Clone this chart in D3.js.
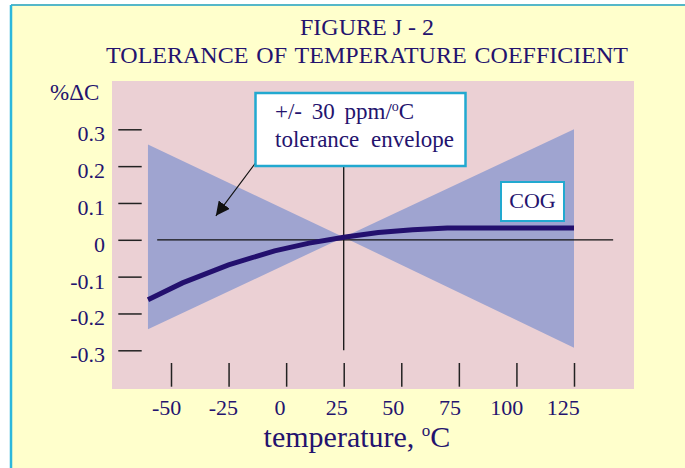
<!DOCTYPE html>
<html>
<head>
<meta charset="utf-8">
<script src="https://cdn.jsdelivr.net/npm/d3@7"></script>
<style>
  body { margin: 0; background: #fff; }
  text { font-family: "Liberation Serif", "Times New Roman", serif; fill: #24136e; }
</style>
</head>
<body>
<svg width="685" height="468"></svg>
<script>
// values
const cogTemps = [-60, -45, -25, -5, 10, 25, 40, 55, 70, 125];
const cogValues = [-0.163, -0.117, -0.068, -0.030, -0.009, 0.007, 0.020, 0.027, 0.032, 0.032];
const envTemps = [-60, 25, 125];
const envUpper = [0.259, 0.007, 0.300];
const envLower = [-0.243, 0.007, -0.293];
const xTicks = [-50, -25, 0, 25, 50, 75, 100, 125];
const yTicks = [0.3, 0.2, 0.1, 0, -0.1, -0.2, -0.3];
const zeroLine = [-56, 142];
const crossTemp = 25;
const arrowFrom = [-13, 0.211];
const arrowTo = [-30.5, 0.065];

const svg = d3.select("svg");
const ink = "#24136e";

// frame and panels
svg.append("rect").attr("x", 11).attr("y", 5).attr("width", 674).attr("height", 463).attr("fill", "#ffffcc");
svg.append("line").attr("x1", 11).attr("x2", 685).attr("y1", 5).attr("y2", 5)
  .attr("stroke", "#55b7c8").attr("stroke-width", 2);
svg.append("line").attr("x1", 11).attr("x2", 11).attr("y1", 5).attr("y2", 468)
  .attr("stroke", "#2cb8dc").attr("stroke-width", 2.5);
svg.append("rect").attr("x", 112).attr("y", 81).attr("width", 522).attr("height", 308).attr("fill", "#ebd0d4");

const x = d3.scaleLinear().domain([-50, 125]).range([171, 574]);
const xLabel = d3.scaleLinear().domain([-50, 125]).range([166.7, 563.3]);
const y = d3.scaleLinear().domain([-0.3, 0.3]).range([350.3, 129.3]);

// title
svg.append("text").attr("x", 367).attr("y", 35).attr("text-anchor", "middle")
  .attr("font-size", 24).text("FIGURE J - 2");
svg.append("text").attr("x", 367).attr("y", 63).attr("text-anchor", "middle")
  .attr("font-size", 24).attr("word-spacing", 2).text("TOLERANCE OF TEMPERATURE COEFFICIENT");

// tolerance envelope
const env = envTemps.map((t, i) => ({ t: t, lo: envLower[i], hi: envUpper[i] }));
svg.append("path").datum(env)
  .attr("fill", "#9fa4d0")
  .attr("d", d3.area().x(d => x(d.t)).y0(d => y(d.lo)).y1(d => y(d.hi)));

// zero line and 25C line
svg.append("line")
  .attr("x1", x(zeroLine[0])).attr("x2", x(zeroLine[1]))
  .attr("y1", y(0)).attr("y2", y(0))
  .attr("stroke", "#111").attr("stroke-width", 1.3);
svg.append("line")
  .attr("x1", x(crossTemp)).attr("x2", x(crossTemp))
  .attr("y1", y(0.3)).attr("y2", y(-0.3))
  .attr("stroke", "#111").attr("stroke-width", 1.3);

// COG curve
const cog = cogTemps.map((t, i) => ({ t: t, v: cogValues[i] }));
svg.append("path").datum(cog)
  .attr("fill", "none").attr("stroke", "#23106e").attr("stroke-width", 5)
  .attr("d", d3.line().x(d => x(d.t)).y(d => y(d.v)));

// y axis: detached ticks
const yAxis = svg.append("g").attr("transform", "translate(141.7,0)")
  .call(d3.axisLeft(y).tickValues(yTicks).tickSize(23.4).tickPadding(13.3).tickFormat(d => String(d)));
yAxis.select(".domain").remove();
yAxis.selectAll("line").attr("stroke", "#222").attr("stroke-width", 1.5);
yAxis.selectAll("text").attr("font-size", 22).attr("dy", "0.52em")
  .attr("font-family", "Liberation Serif").attr("fill", ink);

// x axis: ticks inside the panel, labels below it
const xAxis = svg.append("g").attr("transform", "translate(0,363)")
  .call(d3.axisBottom(x).tickValues(xTicks).tickSizeInner(23.7).tickSizeOuter(0).tickFormat(""));
xAxis.select(".domain").remove();
xAxis.selectAll("line").attr("stroke", "#222").attr("stroke-width", 1.5);

svg.selectAll(".xlab").data(xTicks).enter().append("text")
  .attr("class", "xlab")
  .attr("x", d => xLabel(d)).attr("y", 415)
  .attr("text-anchor", "middle").attr("font-size", 22)
  .text(d => String(d));

// axis titles
svg.append("text").attr("x", 50).attr("y", 100).attr("font-size", 23).text("%ΔC");
const xt = svg.append("text").attr("x", 357).attr("y", 447).attr("text-anchor", "middle")
  .attr("font-size", 30).text("temperature, ");
xt.append("tspan").attr("font-size", 17).attr("dy", -11).text("o");
xt.append("tspan").attr("dy", 11).text("C");

// legend box with arrow
svg.append("defs").append("marker")
  .attr("id", "head").attr("viewBox", "0 0 10 10")
  .attr("refX", 10).attr("refY", 5)
  .attr("markerWidth", 14).attr("markerHeight", 14)
  .attr("markerUnits", "userSpaceOnUse").attr("orient", "auto")
  .append("path").attr("d", "M0,0 L10,5 L0,10 Z").attr("fill", "#111");
svg.append("line")
  .attr("x1", x(arrowFrom[0])).attr("y1", y(arrowFrom[1]))
  .attr("x2", x(arrowTo[0])).attr("y2", y(arrowTo[1]))
  .attr("stroke", "#111").attr("stroke-width", 1.2)
  .attr("marker-end", "url(#head)");

svg.append("rect").attr("x", 255.5).attr("y", 93).attr("width", 210).attr("height", 73)
  .attr("fill", "#fff").attr("stroke", "#22a9d0").attr("stroke-width", 2.5);
const l1 = svg.append("text").attr("x", 275).attr("y", 119).attr("font-size", 23).attr("word-spacing", 4)
  .text("+/- 30 ppm/");
l1.append("tspan").attr("font-size", 14).attr("dy", -8).text("o");
l1.append("tspan").attr("dy", 8).text("C");
svg.append("text").attr("x", 275).attr("y", 147).attr("font-size", 23).attr("word-spacing", 6)
  .text("tolerance envelope");

// COG label box
svg.append("rect").attr("x", 501).attr("y", 182).attr("width", 63).attr("height", 39)
  .attr("fill", "#fff").attr("stroke", "#22a9d0").attr("stroke-width", 2);
svg.append("text").attr("x", 532.5).attr("y", 207.5).attr("text-anchor", "middle")
  .attr("font-size", 22).text("COG");
</script>
</body>
</html>
